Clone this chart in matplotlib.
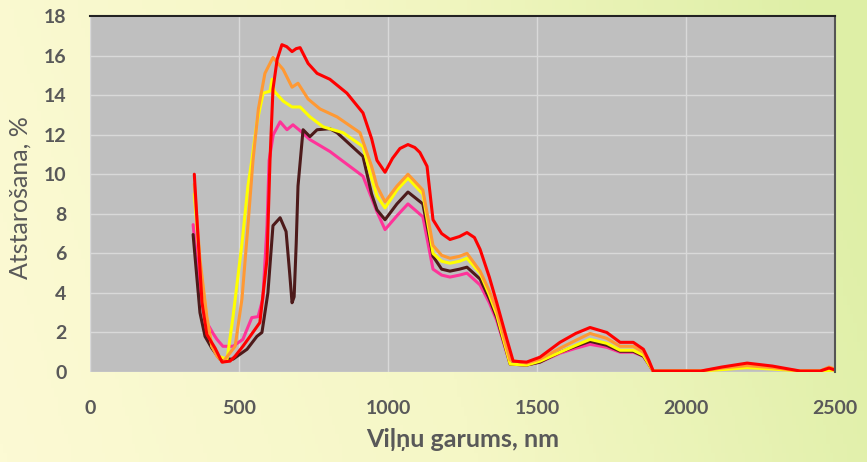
import numpy as np
import matplotlib.pyplot as plt
from matplotlib.colors import LinearSegmentedColormap

# reflectance spectra
wl_red = [350, 359, 376, 392, 420, 443, 470, 487, 513, 537, 570, 594, 604, 614, 628, 644, 660, 678, 692, 705, 732,
          762, 805, 862, 916, 945, 963, 990, 1015, 1040, 1067, 1090, 1107, 1131, 1151, 1180, 1208, 1240, 1265, 1290,
          1309, 1340, 1365, 1398, 1420, 1465, 1510, 1577, 1630, 1678, 1734, 1779, 1823, 1857, 1875, 1890, 2050, 2120,
          2205, 2290, 2383, 2450, 2480, 2500]
r_red = [10.0, 7.7, 3.5, 1.9, 1.2, 0.5, 0.55, 0.8, 1.3, 1.8, 2.5, 5.7, 10.7, 14.3, 15.8, 16.55, 16.45, 16.2, 16.35, 16.4, 15.6,
         15.1, 14.8, 14.1, 13.1, 11.8, 10.7, 10.1, 10.8, 11.3, 11.5, 11.35, 11.1, 10.4, 7.7, 7.0, 6.7, 6.85, 7.05, 6.8,
         6.2, 4.8, 3.5, 1.7, 0.55, 0.5, 0.75, 1.5, 1.95, 2.25, 2.0, 1.5, 1.5, 1.15, 0.6, 0.05, 0.05, 0.25,
         0.45, 0.3, 0.05, 0.05, 0.2, 0.1]

wl_orange = [350, 369, 392, 409, 426, 446, 487, 510, 530, 547, 565, 587, 614, 648, 678, 698, 732, 772, 829, 906, 945,
             963, 990, 1030, 1067, 1117, 1151, 1180, 1208, 1240, 1265, 1309, 1340, 1365, 1410, 1465, 1510, 1577, 1630,
             1678, 1734, 1779, 1823, 1857, 1875, 1890, 2050, 2120, 2205, 2290, 2383, 2450, 2480, 2500]
r_orange = [9.5, 5.7, 2.8, 1.3, 0.8, 0.5, 1.3, 3.7, 7.4, 10.7, 13.3, 15.1, 15.9, 15.3, 14.4, 14.6, 13.8, 13.3, 12.9, 12.1, 10.4,
            9.4, 8.6, 9.4, 10.0, 9.2, 6.4, 5.9, 5.75, 5.85, 6.0, 5.1, 4.1, 3.1, 0.6, 0.45, 0.65, 1.2, 1.6,
            1.95, 1.7, 1.3, 1.3, 1.0, 0.5, 0.05, 0.05, 0.2, 0.32, 0.22, 0.05, 0.05, 0.25, 0.15]

wl_yellow = [350, 369, 392, 409, 430, 460, 480, 510, 530, 543, 560, 581, 604, 611, 618, 648, 678, 705, 738, 782, 849,
             916, 945, 963, 990, 1030, 1067, 1117, 1151, 1180, 1208, 1240, 1265, 1309, 1340, 1365, 1410, 1465, 1510,
             1577, 1630, 1678, 1734, 1779, 1823, 1857, 1875, 1890, 2050, 2120, 2205, 2290, 2383, 2450, 2500]
r_yellow = [9.0, 5.5, 2.7, 1.3, 0.8, 0.65, 2.8, 6.5, 9.4, 10.7, 12.6, 14.1, 14.2, 14.8, 14.2, 13.7, 13.4, 13.4, 12.9, 12.4, 12.1,
            11.4, 9.8, 8.9, 8.3, 9.2, 9.8, 9.0, 6.0, 5.6, 5.5, 5.6, 5.75, 5.0, 3.9, 2.9, 0.4, 0.35, 0.55,
            1.0, 1.35, 1.65, 1.45, 1.1, 1.1, 0.85, 0.4, 0.05, 0.05, 0.12, 0.22, 0.15, 0.05, 0.05, 0.1]

wl_pink = [346, 369, 392, 413, 426, 446, 480, 513, 543, 564, 580, 594, 601, 615, 638, 661, 681, 705, 738, 805, 916, 945,
           963, 990, 1030, 1067, 1117, 1151, 1180, 1208, 1240, 1265, 1309, 1340, 1365, 1410, 1465, 1510, 1577, 1630,
           1678, 1734, 1779, 1823, 1857, 1875, 1890]
r_pink = [7.45, 4.0, 2.5, 1.95, 1.65, 1.3, 1.3, 1.65, 2.75, 2.8, 3.7, 7.4, 10.7, 12.0, 12.65, 12.25, 12.5, 12.2, 11.75, 11.15, 9.9, 8.8,
          8.1, 7.2, 7.9, 8.5, 7.85, 5.2, 4.9, 4.8, 4.9, 5.0, 4.4, 3.5, 2.6, 0.4, 0.35, 0.5, 0.95, 1.2,
          1.4, 1.25, 1.0, 1.0, 0.8, 0.4, 0.05]

wl_brown = [346, 369, 386, 409, 436, 480, 527, 560, 577, 597, 614, 638, 658, 670, 678, 685, 692, 698, 715, 738, 762, 805,
            829, 916, 945, 963, 990, 1030, 1067, 1117, 1151, 1180, 1208, 1240, 1265, 1309, 1340, 1365, 1410, 1465, 1510,
            1577, 1630, 1678, 1734, 1779, 1823, 1857, 1875, 1890]
r_brown = [6.95, 3.0, 1.8, 1.2, 0.65, 0.65, 1.15, 1.8, 2.0, 4.0, 7.4, 7.8, 7.1, 5.0, 3.5, 3.8, 6.5, 9.4, 12.25, 11.9, 12.25, 12.3,
           12.1, 10.9, 9.0, 8.2, 7.7, 8.5, 9.1, 8.5, 5.85, 5.2, 5.1, 5.2, 5.3, 4.7, 3.7, 2.75, 0.4, 0.35, 0.5,
           1.0, 1.3, 1.55, 1.35, 1.05, 1.05, 0.8, 0.4, 0.05]

xticks = [0, 500, 1000, 1500, 2000, 2500]
yticks = [0, 2, 4, 6, 8, 10, 12, 14, 16, 18]

txt = '#595959'
plt.rcParams['font.family'] = ['Lato', 'DejaVu Sans']

fig = plt.figure(figsize=(8.67, 4.62), dpi=100)

# gradient background of the slide
bg = fig.add_axes([0, 0, 1, 1], zorder=-10)
cmap = LinearSegmentedColormap.from_list('bg', ['#fcfad4', '#f5f7c6', '#deefa6'])
gx = np.linspace(0, 1, 256)
grad = np.tile(gx, (50, 1)) + np.linspace(0, 0.15, 50)[:, None]
bg.imshow(grad, aspect='auto', cmap=cmap, extent=[0, 1, 0, 1], origin='lower', vmin=0, vmax=1.1)
bg.axis('off')

ax = fig.add_axes([90 / 867, 1 - 372 / 462, 745 / 867, 356 / 462])
ax.set_facecolor('#bfbfbf')
kw = dict(lw=2.2, solid_joinstyle='round', solid_capstyle='round')
ax.plot(wl_pink, r_pink, color='#ff3399', **kw)
ax.plot(wl_brown, r_brown, color='#4d1a1a', **kw)
ax.plot(wl_yellow, r_yellow, color='#ffff00', **kw)
ax.plot(wl_orange, r_orange, color='#ff9933', **kw)
ax.plot(wl_red, r_red, color='#ff0000', **kw)

ax.set_xlim(0, 2500)
ax.set_ylim(0, 18)
ax.set_xticks(xticks)
ax.set_yticks(yticks)
ax.grid(True, color='#d9d9d9', lw=1)
ax.set_axisbelow(True)
ax.tick_params(length=0, labelsize=14, labelcolor=txt)
for lab in ax.get_xticklabels() + ax.get_yticklabels():
    lab.set_fontweight('bold')
ax.tick_params(axis='x', pad=20)
ax.tick_params(axis='y', pad=17)

ax.spines['left'].set_visible(False)
ax.spines['bottom'].set_visible(False)
ax.spines['top'].set_color('#222222')
ax.spines['top'].set_linewidth(1.5)
ax.spines['right'].set_color('#555555')
ax.spines['right'].set_linewidth(1.5)

ax.set_xlabel('Viļņu garums, nm', fontsize=18, fontweight='bold', color=txt, labelpad=8)
ax.set_ylabel('Atstarošana, %', fontsize=18, color=txt)
ax.yaxis.set_label_coords(-58 / 745, 0.49)

fig.savefig('out.png', dpi=100)
